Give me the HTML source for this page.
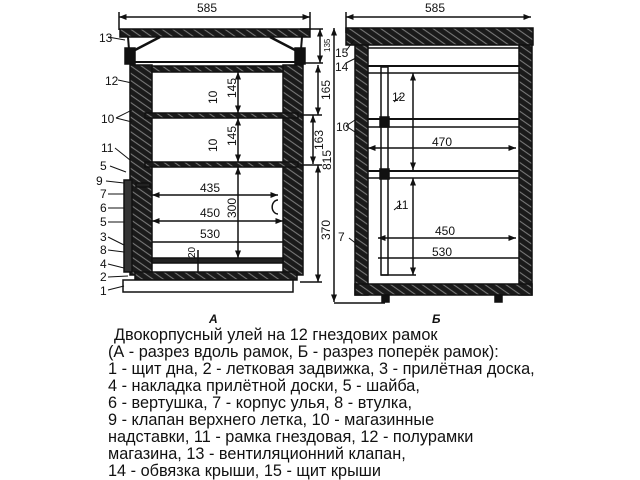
<!DOCTYPE html>
<html><head><meta charset="utf-8"><style>
html,body{margin:0;padding:0;background:#fff;width:640px;height:480px;overflow:hidden}
svg{display:block}
text{font-family:"Liberation Sans",sans-serif;fill:#111}
</style></head><body>
<svg width="640" height="480" viewBox="0 0 640 480" xmlns="http://www.w3.org/2000/svg">
<defs>
<pattern id="h" width="6" height="6" patternUnits="userSpaceOnUse" patternTransform="rotate(35)">
<rect width="6" height="6" fill="#1a1a1a"/><line x1="0" y1="3" x2="6" y2="3" stroke="#777" stroke-width="1.1"/>
</pattern>
<marker id="a" viewBox="0 0 10 10" refX="10" refY="5" markerWidth="5" markerHeight="5" orient="auto-start-reverse"><path d="M0,1L10,5L0,9z" fill="#111"/></marker>
</defs>
<g stroke="#111" fill="none" stroke-width="1.5">
<!-- LEFT drawing -->
<line x1="119" y1="17" x2="310" y2="17" marker-start="url(#a)" marker-end="url(#a)"/>
<line x1="119" y1="12" x2="119" y2="30"/><line x1="310" y1="12" x2="310" y2="30"/>
<rect x="120" y="29" width="190" height="8" fill="url(#h)"/>
<path d="M128 37 L130 62 L300 62 L302 37" stroke-width="2"/>
<path d="M135 50 L160 37 M295 50 L270 37" stroke-width="2.5"/>
<rect x="125" y="48" width="10" height="16" fill="#111"/>
<rect x="295" y="48" width="10" height="16" fill="#111"/>
<rect x="130" y="65" width="22" height="210" fill="url(#h)"/>
<rect x="283" y="65" width="20" height="210" fill="url(#h)"/>
<rect x="152" y="66" width="131" height="6" fill="url(#h)"/>
<rect x="145" y="113" width="153" height="5" fill="url(#h)"/>
<rect x="145" y="162" width="153" height="5" fill="url(#h)"/>
<rect x="152" y="258" width="131" height="5" fill="#222"/>
<rect x="135" y="272" width="162" height="8" fill="url(#h)"/>
<rect x="123" y="280" width="170" height="12" fill="#fff"/>
<rect x="124" y="180" width="8" height="92" fill="#333"/>
<rect x="136" y="183" width="14" height="4" fill="#222"/>
<path d="M278 200 a5 6 0 0 0 0 14"/>
<line x1="238" y1="72" x2="238" y2="113" marker-start="url(#a)" marker-end="url(#a)"/>
<line x1="238" y1="118" x2="238" y2="162" marker-start="url(#a)" marker-end="url(#a)"/>
<line x1="238" y1="167" x2="238" y2="258" marker-start="url(#a)" marker-end="url(#a)"/>
<line x1="152" y1="195" x2="278" y2="195" marker-start="url(#a)" marker-end="url(#a)"/>
<line x1="152" y1="221" x2="283" y2="221" marker-start="url(#a)" marker-end="url(#a)"/>
<line x1="152" y1="242" x2="283" y2="242"/>
<line x1="198" y1="250" x2="198" y2="272"/>
<line x1="300" y1="29" x2="323" y2="29"/><line x1="300" y1="63" x2="323" y2="63"/>
<line x1="320" y1="29" x2="320" y2="63" marker-start="url(#a)" marker-end="url(#a)"/>
<line x1="318" y1="65" x2="318" y2="115" marker-start="url(#a)" marker-end="url(#a)"/>
<line x1="313" y1="115" x2="313" y2="164" marker-start="url(#a)" marker-end="url(#a)"/>
<line x1="318" y1="165" x2="318" y2="282" marker-start="url(#a)" marker-end="url(#a)"/>
<line x1="300" y1="115" x2="322" y2="115"/><line x1="300" y1="165" x2="322" y2="165"/><line x1="300" y1="282" x2="322" y2="282"/>
<line x1="334" y1="28" x2="334" y2="302" marker-start="url(#a)" marker-end="url(#a)"/>
<path d="M108 37 L125 40 M118 80 L132 83 M116 118 L132 110 M116 118 L132 122 M115 148 L130 160 M110 166 L126 172 M106 181 L124 183 M108 194 L124 194 M108 208 L124 208 M108 222 L124 222 M108 237 L124 245 M108 250 L124 252 M108 264 L124 268 M108 277 L128 276 M108 290 L124 286" stroke-width="1"/>
<!-- RIGHT drawing -->
<line x1="346" y1="17" x2="531" y2="17" marker-start="url(#a)" marker-end="url(#a)"/>
<line x1="346" y1="12" x2="346" y2="33"/>
<rect x="346" y="28" width="187" height="17" fill="url(#h)"/>
<rect x="355" y="45" width="13" height="250" fill="url(#h)"/>
<rect x="519" y="45" width="13" height="250" fill="url(#h)"/>
<rect x="355" y="284" width="177" height="11" fill="url(#h)"/>
<line x1="368" y1="48" x2="519" y2="48"/>
<line x1="368" y1="66" x2="519" y2="66" stroke-width="2"/>
<line x1="368" y1="73" x2="519" y2="73"/>
<line x1="368" y1="119" x2="519" y2="119" stroke-width="2"/>
<line x1="368" y1="127" x2="519" y2="127"/>
<line x1="368" y1="171" x2="519" y2="171" stroke-width="2"/>
<line x1="368" y1="178" x2="519" y2="178"/>
<rect x="381" y="67" width="7" height="208"/>
<rect x="380" y="117" width="9" height="10" fill="#111"/>
<rect x="380" y="169" width="9" height="10" fill="#111"/>
<line x1="381" y1="275" x2="416" y2="275"/>
<line x1="413" y1="73" x2="413" y2="170" marker-start="url(#a)" marker-end="url(#a)"/>
<line x1="413" y1="178" x2="413" y2="275" marker-start="url(#a)" marker-end="url(#a)"/>
<line x1="368" y1="148" x2="516" y2="148" marker-start="url(#a)" marker-end="url(#a)"/>
<line x1="378" y1="238" x2="516" y2="238" marker-start="url(#a)" marker-end="url(#a)"/>
<line x1="378" y1="258" x2="519" y2="258"/>
<rect x="382" y="295" width="7" height="7" fill="#111"/>
<rect x="495" y="295" width="7" height="7" fill="#111"/>
<line x1="334" y1="303" x2="385" y2="303"/>
<path d="M346 51 L354 40 M346 63 L356 58 M346 126 L358 118 M346 126 L358 134 M349 238 L358 245 M394 102 L401 96 M394 210 L401 204" stroke-width="1"/>
</g>
<g font-size="12">
<text x="197" y="12">585</text>
<text x="425" y="12">585</text>
<text x="99" y="42">13</text>
<text x="105" y="85">12</text>
<text x="101" y="123">10</text>
<text x="101" y="152">11</text>
<text x="100" y="170">5</text>
<text x="96" y="185">9</text>
<text x="100" y="198">7</text>
<text x="100" y="212">6</text>
<text x="100" y="226">5</text>
<text x="100" y="241">3</text>
<text x="100" y="254">8</text>
<text x="100" y="268">4</text>
<text x="100" y="281">2</text>
<text x="100" y="295">1</text>
<text x="200" y="192">435</text>
<text x="200" y="217">450</text>
<text x="200" y="238">530</text>
<text x="335" y="57">15</text>
<text x="335" y="71">14</text>
<text x="336" y="131">10</text>
<text x="338" y="241">7</text>
<text x="392" y="101">12</text>
<text x="396" y="209">11</text>
<text x="432" y="146">470</text>
<text x="435" y="235">450</text>
<text x="432" y="256">530</text>
<g transform="rotate(-90)">
<text x="-104" y="217">10</text>
<text x="-98" y="236">145</text>
<text x="-152" y="217">10</text>
<text x="-146" y="236">145</text>
<text x="-218" y="236">300</text>
<text x="-258" y="195" font-size="10">20</text>
<text x="-100" y="330">165</text>
<text x="-150" y="323">163</text>
<text x="-240" y="330">370</text>
<text x="-170" y="331">815</text>
<text x="-52" y="330" font-size="8">135</text>
</g>
</g>
<text x="209" y="323" font-size="12" font-weight="bold" font-style="italic">А</text>
<text x="432" y="323" font-size="12" font-weight="bold" font-style="italic">Б</text>
<g font-size="16.3">
<text x="114" y="340">Двокорпусный улей на 12 гнездових рамок</text>
<text x="108" y="357">(А - разрез вдоль рамок, Б - разрез поперёк рамок):</text>
<text x="108" y="374">1 - щит дна, 2 - летковая задвижка, 3 - прилётная доска,</text>
<text x="108" y="391">4 - накладка прилётной доски, 5 - шайба,</text>
<text x="108" y="408">6 - вертушка, 7 - корпус улья, 8 - втулка,</text>
<text x="108" y="425">9 - клапан верхнего летка, 10 - магазинные</text>
<text x="108" y="442">надставки, 11 - рамка гнездовая, 12 - полурамки</text>
<text x="108" y="459">магазина, 13 - вентиляционний клапан,</text>
<text x="108" y="476">14 - обвязка крыши, 15 - щит крыши</text>
</g>
</svg>
</body></html>
